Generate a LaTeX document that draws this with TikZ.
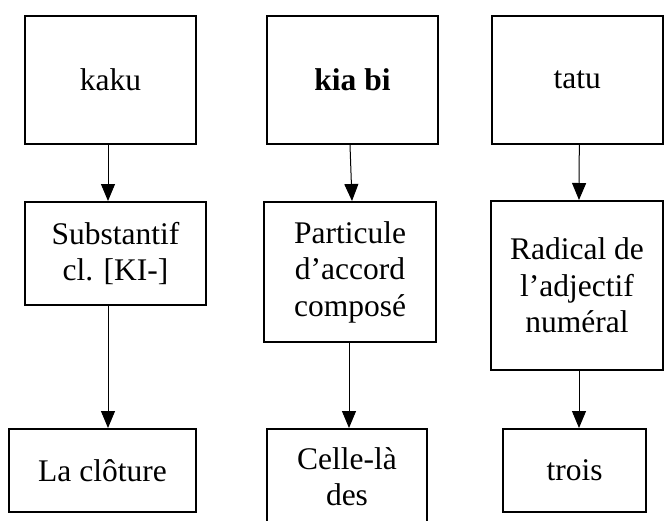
\documentclass[tikz,border=0pt]{standalone}
\usepackage{fontspec}
\setmainfont{Liberation Serif}
\usetikzlibrary{arrows.meta}
\begin{document}
\begin{tikzpicture}[x=1pt,y=-1pt,
  box/.style={draw, line width=2pt, inner sep=0pt, align=center,
    font=\fontsize{31.5}{36.5}\selectfont},
  conn/.style={line width=1pt, -{Triangle[length=17pt,width=14pt]}}]
\useasboundingbox (0,0) rectangle (664,520);
\clip (0,0) rectangle (664,520);
% top row
\node[box, minimum width=171pt, minimum height=128pt] (t1) at (110.5,80) {kaku};
\node[box, minimum width=171pt, minimum height=128pt] (t2) at (352.5,80) {\textbf{kia bi}};
\node[box, minimum width=171pt, minimum height=128pt] (t3) at (577.3,80) {tatu};
% middle row
\node[box, minimum width=181pt, minimum height=103pt] (m1) at (115.5,253.5) {Substantif\\cl. [KI-]};
\node[box, minimum width=172pt, minimum height=140pt] (m2) at (350,272) {Particule\\d’accord\\composé};
\node[box, minimum width=172pt, minimum height=169pt] (m3) at (577,285.5) {Radical de\\l’adjectif\\numéral};
% bottom row
\node[box, minimum width=187pt, minimum height=83pt] (b1) at (102.5,470.5) {La clôture};
\node[box, minimum width=160pt, minimum height=95pt] (b2) at (347,476.5) {Celle-là\\des};
\node[box, minimum width=143pt, minimum height=83pt] (b3) at (574.5,470.5) {trois};
% connectors
\draw[conn] ([xshift=-2.5pt]t1.south) -- ([xshift=-7.5pt]m1.north);
\draw[conn] ([xshift=-2.5pt]t2.south) -- ([xshift=2pt]m2.north);
\draw[conn] ([xshift=2pt]t3.south) -- ([xshift=2pt]m3.north);
\draw[conn] ([xshift=-7.5pt]m1.south) -- ([xshift=5.5pt]b1.north);
\draw[conn] ([xshift=-1pt]m2.south) -- ([xshift=2pt]b2.north);
\draw[conn] ([xshift=2pt]m3.south) -- ([xshift=4.5pt]b3.north);
\end{tikzpicture}
\end{document}
